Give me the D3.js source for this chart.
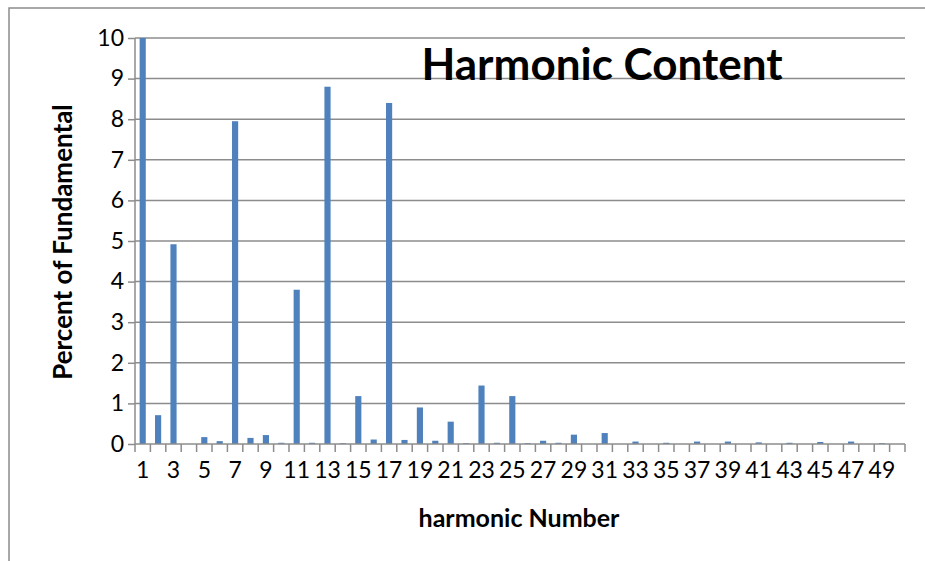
<!DOCTYPE html>
<html>
  <head>
    <meta charset="utf-8">
    <style>
        body { margin: 0; background: #fff; }
        text { font-family: Lato, "Open Sans", sans-serif; fill: #000; }
    </style>
    <script src="https://d3js.org/d3.v7.min.js"></script>
  </head>
  <body>
    <svg></svg>
    <script>
    // harmonic numbers 1..50 and their size in percent of fundamental
    var harmonics = d3.range(1, 51);
    var percent = [100, 0.71, 4.92, 0, 0.17, 0.07, 7.95, 0.15, 0.22, 0.03,
                   3.8, 0.03, 8.8, 0.02, 1.18, 0.11, 8.4, 0.1, 0.9, 0.08,
                   0.55, 0.02, 1.44, 0.03, 1.18, 0.02, 0.08, 0.03, 0.23, 0,
                   0.27, 0, 0.06, 0, 0.03, 0, 0.06, 0, 0.06, 0,
                   0.04, 0, 0.03, 0, 0.05, 0, 0.06, 0, 0.02, 0];
    var yTicks = d3.range(0, 11);
    var xLabels = harmonics.filter(function(d) { return d % 2 == 1; });

    var W = 925, H = 561;
    var svg = d3.select("svg")
        .attr("width", W)
        .attr("height", H);

    // chart frame (runs off the right and bottom)
    svg.append("rect")
        .attr("x", 9).attr("y", 8)
        .attr("width", 1000).attr("height", 1000)
        .attr("fill", "none")
        .attr("stroke", "#8c8c8c")
        .attr("stroke-width", 1.5);

    var x = d3.scaleBand()
        .domain(harmonics)
        .range([135, 905])
        .paddingInner(0.6)
        .paddingOuter(0.3);

    var y = d3.scaleLinear()
        .domain([0, 10])
        .range([444, 38])
        .clamp(true);

    // gridlines
    svg.append("g")
        .selectAll("line")
        .data(yTicks.slice(1))
        .enter().append("line")
          .attr("x1", 135).attr("x2", 905)
          .attr("y1", function(d) { return y(d); })
          .attr("y2", function(d) { return y(d); })
          .attr("stroke", "#8c8c8c")
          .attr("stroke-width", 1.5);

    // bars
    svg.append("g")
        .selectAll("rect")
        .data(harmonics)
        .enter().append("rect")
          .attr("x", function(d) { return x(d); })
          .attr("width", x.bandwidth())
          .attr("y", function(d, i) { return y(percent[i]); })
          .attr("height", function(d, i) { return y(0) - y(percent[i]); })
          .attr("fill", "#4f81bd");

    // y axis
    var yAxis = svg.append("g")
        .attr("transform", "translate(135,0)")
        .call(d3.axisLeft(y).tickValues(yTicks).tickSize(7).tickPadding(4));
    yAxis.selectAll("line, path").attr("stroke", "#8c8c8c").attr("stroke-width", 1.5);
    yAxis.select(".domain").attr("d", "M0,38V444");
    yAxis.selectAll("text").attr("font-size", 23).attr("font-family", "Lato");

    // x axis: one tick per category boundary, labels on odd harmonics
    var xb = svg.append("g").attr("transform", "translate(0,444)");
    var step = x.step();
    xb.append("line")
        .attr("x1", 135).attr("x2", 905)
        .attr("stroke", "#8c8c8c").attr("stroke-width", 1.5);
    xb.selectAll(".tick")
        .data(harmonics.concat([51]))
        .enter().append("line")
          .attr("x1", function(d) { return 135 + (d - 1) * step; })
          .attr("x2", function(d) { return 135 + (d - 1) * step; })
          .attr("y1", 0).attr("y2", 8)
          .attr("stroke", "#8c8c8c").attr("stroke-width", 1.5);
    xb.selectAll(".lab")
        .data(xLabels)
        .enter().append("text")
          .attr("x", function(d) { return x(d) + x.bandwidth() / 2; })
          .attr("y", 34)
          .attr("text-anchor", "middle")
          .attr("font-size", 23)
          .text(function(d) { return d; });

    // titles
    svg.append("text")
        .attr("x", 602).attr("y", 80)
        .attr("text-anchor", "middle")
        .attr("font-size", 44)
        .attr("font-weight", "bold")
        .text("Harmonic Content");

    svg.append("text")
        .attr("transform", "translate(72,242) rotate(-90)")
        .attr("text-anchor", "middle")
        .attr("font-size", 26)
        .attr("font-weight", "bold")
        .text("Percent of Fundamental");

    svg.append("text")
        .attr("x", 519).attr("y", 527)
        .attr("text-anchor", "middle")
        .attr("font-size", 25)
        .attr("font-weight", "bold")
        .text("harmonic Number");
    </script>
  </body>
</html>
